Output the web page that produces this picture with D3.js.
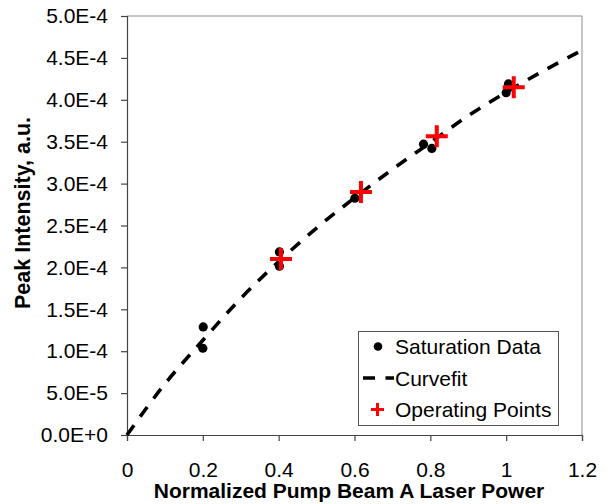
<!DOCTYPE html>
<html>
<head>
<meta charset="utf-8">
<script src="https://cdn.jsdelivr.net/npm/d3@7"></script>
<style>
  body { margin: 0; background: #fff; }
  svg text { font-family: "Liberation Sans", Arial, sans-serif; fill: #000; }
</style>
</head>
<body>
<div id="chart"></div>
<script>
// Saturation data (black dots)
var satX = [0.201, 0.200, 0.402, 0.402, 0.601, 0.782, 0.804, 1.006, 1.000];
var satY = [1.29e-4, 1.035e-4, 2.185e-4, 2.015e-4, 2.825e-4, 3.47e-4, 3.42e-4, 4.19e-4, 4.085e-4];

// Curvefit (dashed line)
var fitX = [0, 0.1, 0.2, 0.3, 0.4, 0.5, 0.6, 0.7, 0.8, 0.9, 1.0, 1.1, 1.2];
var fitY = [0, 6.1e-5, 1.13e-4, 1.63e-4, 2.07e-4, 2.47e-4, 2.83e-4, 3.17e-4, 3.49e-4, 3.81e-4, 4.09e-4, 4.35e-4, 4.59e-4];

// Operating points (red plus)
var opX = [0.406, 0.617, 0.817, 1.020];
var opY = [2.10e-4, 2.90e-4, 3.565e-4, 4.15e-4];

var xTicks = [0, 0.2, 0.4, 0.6, 0.8, 1.0, 1.2];
var yTicks = [0, 5e-5, 1e-4, 1.5e-4, 2e-4, 2.5e-4, 3e-4, 3.5e-4, 4e-4, 4.5e-4, 5e-4];

var legendLabels = ["Saturation Data", "Curvefit", "Operating Points"];

var svgWidth = 607;
var svgHeight = 504;
var margin = { top: 16, right: 25, bottom: 69, left: 127 };
var width = svgWidth - margin.left - margin.right;
var height = svgHeight - margin.top - margin.bottom;

var svg = d3.select("#chart")
    .append("svg")
    .attr("width", svgWidth)
    .attr("height", svgHeight);

var chartGroup = svg.append("g")
    .attr("transform", `translate(${margin.left}, ${margin.top})`);

var xScale = d3.scaleLinear().domain([0, 1.2]).range([0, width]);
var yScale = d3.scaleLinear().domain([0, 5e-4]).range([height, 0]);

// plot border (top / right)
chartGroup.append("path")
    .attr("d", `M0,0H${width}V${height}`)
    .attr("fill", "none")
    .attr("stroke", "#8c8c8c")
    .attr("stroke-width", 1);

// axes
var bottomAxis = d3.axisBottom(xScale)
    .tickValues(xTicks)
    .tickSize(6)
    .tickPadding(21)
    .tickFormat(d3.format("~g"));
var leftAxis = d3.axisLeft(yScale)
    .tickValues(yTicks)
    .tickSize(6)
    .tickPadding(13)
    .tickFormat(d => d3.format(".1e")(d).toUpperCase());

var xAxisG = chartGroup.append("g")
    .attr("transform", `translate(0, ${height})`)
    .call(bottomAxis);
var yAxisG = chartGroup.append("g")
    .call(leftAxis);

[xAxisG, yAxisG].forEach(function (g) {
    g.select(".domain").attr("stroke", "#444").attr("stroke-width", 1.2);
    g.selectAll(".tick line").attr("stroke", "#444").attr("stroke-width", 1.2);
    g.selectAll(".tick text")
        .attr("font-family", "Liberation Sans, Arial, sans-serif")
        .attr("font-size", 21)
        .attr("fill", "#000");
});

// curvefit
var fitData = fitX.map((x, i) => ({ x: x, y: fitY[i] }));
var line = d3.line()
    .x(d => xScale(d.x))
    .y(d => yScale(d.y))
    .curve(d3.curveMonotoneX);

chartGroup.append("path")
    .datum(fitData)
    .attr("d", line)
    .attr("fill", "none")
    .attr("stroke", "#000")
    .attr("stroke-width", 3.6)
    .attr("stroke-dasharray", "12,10.5");

// saturation dots
var satData = satX.map((x, i) => ({ x: x, y: satY[i] }));
chartGroup.selectAll(".sat")
    .data(satData)
    .enter()
    .append("circle")
    .attr("class", "sat")
    .attr("cx", d => xScale(d.x))
    .attr("cy", d => yScale(d.y))
    .attr("r", 4.6)
    .attr("fill", "#000");

// operating points
var opData = opX.map((x, i) => ({ x: x, y: opY[i] }));
var plusSize = 11;
chartGroup.selectAll(".op")
    .data(opData)
    .enter()
    .append("path")
    .attr("class", "op")
    .attr("d", d => {
        var cx = xScale(d.x), cy = yScale(d.y);
        return `M${cx - plusSize},${cy}H${cx + plusSize}M${cx},${cy - plusSize}V${cy + plusSize}`;
    })
    .attr("stroke", "#ff0000")
    .attr("stroke-width", 4)
    .attr("fill", "none");

// axis titles
svg.append("text")
    .attr("x", 349)
    .attr("y", 498)
    .attr("text-anchor", "middle")
    .attr("font-size", 21)
    .attr("font-weight", "bold")
    .text("Normalized Pump Beam A Laser Power");

svg.append("text")
    .attr("transform", "translate(30, 213) rotate(-90)")
    .attr("text-anchor", "middle")
    .attr("font-size", 21.5)
    .attr("font-weight", "bold")
    .text("Peak Intensity, a.u.");

// legend
var legend = svg.append("g").attr("transform", "translate(358, 331)");
legend.append("rect")
    .attr("x", 0.5)
    .attr("y", 0.5)
    .attr("width", 200)
    .attr("height", 94)
    .attr("fill", "#fff")
    .attr("stroke", "#555")
    .attr("stroke-width", 1);

var rowY = [15.5, 47, 78.5];
legend.append("circle")
    .attr("cx", 20)
    .attr("cy", rowY[0])
    .attr("r", 4.3)
    .attr("fill", "#000");
legend.append("line")
    .attr("x1", 5).attr("x2", 36)
    .attr("y1", rowY[1]).attr("y2", rowY[1])
    .attr("stroke", "#000")
    .attr("stroke-width", 3.6)
    .attr("stroke-dasharray", "12,10.5");
legend.append("path")
    .attr("d", `M13,${rowY[2]}H26M19.5,${rowY[2] - 6.5}V${rowY[2] + 6.5}`)
    .attr("stroke", "#ff0000")
    .attr("stroke-width", 3)
    .attr("fill", "none");

legend.selectAll(".lt")
    .data(legendLabels)
    .enter()
    .append("text")
    .attr("class", "lt")
    .attr("x", 37)
    .attr("y", (d, i) => rowY[i] + 7.5)
    .attr("font-size", 21)
    .text(d => d);
</script>
</body>
</html>
